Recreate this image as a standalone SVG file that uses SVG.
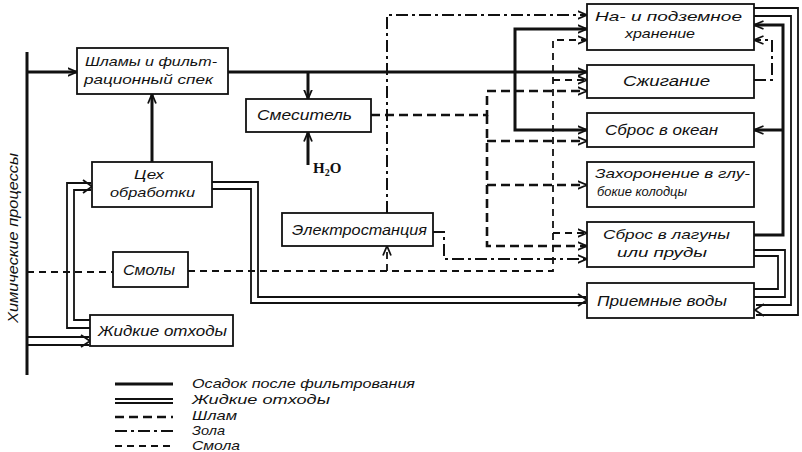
<svg xmlns="http://www.w3.org/2000/svg" width="802" height="452" viewBox="0 0 802 452">
<style>
.box{fill:#fff;stroke:#111;stroke-width:1.8}
.t{font-family:"Liberation Sans","DejaVu Sans",sans-serif;font-style:italic;font-size:14px;fill:#111}
.t2{font-size:13px}
.lg{font-family:"Liberation Sans","DejaVu Sans",sans-serif;font-style:italic;font-size:13px;fill:#111}
.c path,.c line{fill:none;stroke:#111}
.solid{stroke-width:3}
.dbl{stroke-width:1.8}
.shlam{stroke-width:2.6;stroke-dasharray:9 5}
.zola{stroke-width:2;stroke-dasharray:12 4 3 4}
.smola{stroke-width:1.8;stroke-dasharray:7 5}
.head{stroke-width:1.8;stroke-dasharray:none}
</style>
<defs>
<marker id="ar" viewBox="0 0 10 10" refX="9.5" refY="5" markerWidth="10" markerHeight="10" markerUnits="userSpaceOnUse" orient="auto">
<path d="M0,1 L9.5,5 L0,9" fill="none" stroke="#111" stroke-width="1.8" stroke-dasharray="none"/>
</marker>
</defs>
<rect width="802" height="452" fill="#fff"/>

<text class="t" transform="translate(18,238) rotate(-90)" text-anchor="middle" textLength="170" lengthAdjust="spacingAndGlyphs">Химические процессы</text>

<g class="c" id="connectors">
<!-- solid: осадок -->
<line class="solid" x1="27" y1="52" x2="27" y2="375"/>
<path class="solid" d="M27,72 H77" marker-end="url(#ar)"/>
<path class="solid" d="M152,162 V94" marker-end="url(#ar)"/>
<path class="solid" d="M228,72 H587" marker-end="url(#ar)"/>
<path class="solid" d="M308,72 V99" marker-end="url(#ar)"/>
<path class="solid" d="M308,165 V132" marker-end="url(#ar)"/>
<path class="solid" d="M515,72 V29 H587" marker-end="url(#ar)"/>
<path class="solid" d="M515,72 V130 H587" marker-end="url(#ar)"/>
<path class="solid" d="M754,235 H783 V25 H754" marker-end="url(#ar)"/>
<path class="solid" d="M783,130 H754" marker-end="url(#ar)"/>
<!-- шлам -->
<path class="shlam" d="M371,115 H487 V91 H587" marker-end="url(#ar)"/>
<path class="shlam" d="M487,115 V246 H587" marker-end="url(#ar)"/>
<path class="shlam" d="M487,141 H587" marker-end="url(#ar)"/>
<path class="shlam" d="M487,185 H587" marker-end="url(#ar)"/>
<!-- зола -->
<path class="zola" d="M387,213 V15 H587" marker-end="url(#ar)"/>
<path class="zola" d="M433,232 H444 V259 H587" marker-end="url(#ar)"/>
<path class="zola" d="M754,80 H772 V40 H754" marker-end="url(#ar)"/>
<!-- смола -->
<path class="smola" d="M27,272 H113"/>
<path class="smola" d="M188,271 H553 V40 H587" marker-end="url(#ar)"/>
<path class="smola" d="M553,80 H587" marker-end="url(#ar)"/>
<path class="smola" d="M553,233 H587" marker-end="url(#ar)"/>
<path class="smola" d="M387,271 V246" marker-end="url(#ar)"/>
<!-- жидкие отходы (double) -->
<path class="dbl" d="M27,337 H89"/>
<path class="dbl" d="M27,345 H89"/>
<path class="head" d="M81,335 L90,341 L81,347"/>
<path class="dbl" d="M90,320 H74 V190 H91"/>
<path class="dbl" d="M90,328 H67 V183 H91"/>
<path class="head" d="M83,180 L92,186.5 L83,193"/>
<path class="dbl" d="M212,182 H258 V297 H586"/>
<path class="dbl" d="M212,189 H251 V303 H586"/>
<path class="head" d="M578,294 L587,300 L578,306"/>
<path class="dbl" d="M754,250 H785 V297 H754"/>
<path class="dbl" d="M754,256 H778 V289 H754"/>
<path class="dbl" d="M754,8 H798 V315 H756"/>
<path class="dbl" d="M754,16 H791 V305 H756"/>
<path class="head" d="M764,304 L755,310 L764,316"/>
</g>

<text x="313" y="173" font-family="'Liberation Serif',serif" font-weight="bold" font-size="15" fill="#111">H<tspan font-size="10" dy="3">2</tspan><tspan dy="-3">O</tspan></text>

<g id="n_shlamy"><rect class="box" x="77" y="48" width="151" height="46"/>
<text class="t t2" x="85" y="66" textLength="132" lengthAdjust="spacingAndGlyphs">Шламы и фильт-</text>
<text class="t t2" x="84" y="84" textLength="129" lengthAdjust="spacingAndGlyphs">рационный спек</text></g>

<g id="n_ceh"><rect class="box" x="92" y="162" width="120" height="45"/>
<text class="t t2" x="134" y="179" textLength="30" lengthAdjust="spacingAndGlyphs">Цех</text>
<text class="t t2" x="110" y="197" textLength="85" lengthAdjust="spacingAndGlyphs">обработки</text></g>

<g id="n_smes"><rect class="box" x="246" y="99" width="125" height="33"/>
<text class="t" x="257" y="120" textLength="95" lengthAdjust="spacingAndGlyphs">Смеситель</text></g>

<g id="n_smoly"><rect class="box" x="113" y="252" width="75" height="35"/>
<text class="t" x="123" y="275" textLength="52" lengthAdjust="spacingAndGlyphs">Смолы</text></g>

<g id="n_zhid"><rect class="box" x="90" y="315" width="143" height="31"/>
<text class="t" x="98" y="336" textLength="129" lengthAdjust="spacingAndGlyphs">Жидкие отходы</text></g>

<g id="n_elec"><rect class="box" x="282" y="213" width="151" height="33"/>
<text class="t" x="292" y="235" textLength="135" lengthAdjust="spacingAndGlyphs">Электростанция</text></g>

<g id="n_hran"><rect class="box" x="587" y="4" width="167" height="46"/>
<text class="t t2" x="595" y="21" textLength="147" lengthAdjust="spacingAndGlyphs">На- и подземное</text>
<text class="t t2" x="625" y="38" textLength="70" lengthAdjust="spacingAndGlyphs">хранение</text></g>

<g id="n_szhig"><rect class="box" x="587" y="65" width="167" height="33"/>
<text class="t" x="623" y="86" textLength="87" lengthAdjust="spacingAndGlyphs">Сжигание</text></g>

<g id="n_okean"><rect class="box" x="587" y="113" width="167" height="34"/>
<text class="t" x="605" y="135" textLength="113" lengthAdjust="spacingAndGlyphs">Сброс в океан</text></g>

<g id="n_zahor"><rect class="box" x="587" y="162" width="167" height="45"/>
<text class="t t2" x="595" y="178" textLength="155" lengthAdjust="spacingAndGlyphs">Захоронение в глу-</text>
<text class="t t2" x="597" y="196" textLength="90" lengthAdjust="spacingAndGlyphs">бокие колодцы</text></g>

<g id="n_lag"><rect class="box" x="587" y="222" width="167" height="45"/>
<text class="t t2" x="603" y="239" textLength="127" lengthAdjust="spacingAndGlyphs">Сброс в лагуны</text>
<text class="t t2" x="617" y="257" textLength="90" lengthAdjust="spacingAndGlyphs">или пруды</text></g>

<g id="n_priem"><rect class="box" x="587" y="283" width="167" height="35"/>
<text class="t" x="597" y="306" textLength="130" lengthAdjust="spacingAndGlyphs">Приемные воды</text></g>

<g id="legend" class="c">
<line class="solid" x1="115" y1="384" x2="173" y2="384"/>
<line class="dbl" x1="115" y1="399" x2="173" y2="399"/>
<line class="dbl" x1="115" y1="403" x2="173" y2="403"/>
<line class="shlam" x1="115" y1="417" x2="173" y2="417"/>
<line class="zola" x1="115" y1="431" x2="173" y2="431"/>
<line class="smola" x1="115" y1="446" x2="173" y2="446"/>
<text class="lg" x="192" y="388" textLength="223" lengthAdjust="spacingAndGlyphs">Осадок после фильтрования</text>
<text class="lg" x="192" y="404" font-size="12" textLength="138" lengthAdjust="spacingAndGlyphs">Жидкие отходы</text>
<text class="lg" x="192" y="420" font-size="11" textLength="45" lengthAdjust="spacingAndGlyphs">Шлам</text>
<text class="lg" x="192" y="435" font-size="9" textLength="33" lengthAdjust="spacingAndGlyphs">Зола</text>
<text class="lg" x="192" y="450" font-size="11" textLength="48" lengthAdjust="spacingAndGlyphs">Смола</text>
</g>
</svg>
